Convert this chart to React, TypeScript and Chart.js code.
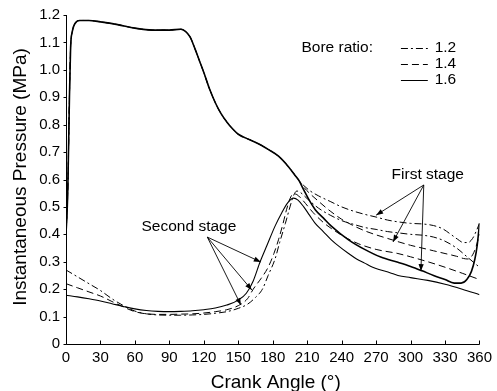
import React, { useEffect, useRef } from "react";
import { Chart, registerables } from "chart.js";

Chart.register(...registerables);

const FONT = '"Liberation Sans", Arial, Helvetica, sans-serif';

// Axis ticks
const xTicks = [0, 30, 60, 90, 120, 150, 180, 210, 240, 270, 300, 330, 360];
const yTicks = [0, 0.1, 0.2, 0.3, 0.4, 0.5, 0.6, 0.7, 0.8, 0.9, 1.0, 1.1, 1.2];
const yTickLabels = ["0", "0.1", "0.2", "0.3", "0.4", "0.5", "0.6", "0.7", "0.8", "0.9", "1.0", "1.1", "1.2"];

// First stage: common part (all bore ratios overlap)
const commonAngles = [0, 1.5, 3, 4, 5.5, 8, 12, 20, 30, 45, 60, 75, 90, 100, 104, 108, 112, 116, 120, 125, 130, 135, 140, 145, 150, 160, 170, 176, 185, 194, 200, 203];
const commonValues = [0.4, 0.55, 0.9, 1.08, 1.14, 1.17, 1.18, 1.18, 1.175, 1.165, 1.152, 1.145, 1.145, 1.148, 1.14, 1.12, 1.08, 1.035, 0.99, 0.93, 0.88, 0.84, 0.81, 0.785, 0.765, 0.745, 0.725, 0.71, 0.685, 0.645, 0.612, 0.595];

// First stage branches
const fs12Angles = [207, 212, 220, 230, 240, 250, 260, 270, 280, 290, 300, 310, 320, 328, 335, 341, 346, 350, 354, 357, 360];
const fs12Values = [0.578, 0.56, 0.54, 0.52, 0.5, 0.485, 0.473, 0.463, 0.452, 0.445, 0.44, 0.438, 0.432, 0.42, 0.4, 0.382, 0.37, 0.37, 0.385, 0.41, 0.44];
const fs14Angles = [207, 212, 220, 230, 240, 250, 260, 270, 280, 290, 300, 310, 320, 330, 340, 346, 350, 354, 357, 360];
const fs14Values = [0.572, 0.55, 0.52, 0.485, 0.455, 0.432, 0.413, 0.398, 0.385, 0.372, 0.36, 0.35, 0.34, 0.33, 0.32, 0.312, 0.31, 0.325, 0.355, 0.4];
const fs16Angles = [207, 211, 217, 224, 231, 246, 260, 274, 289, 300, 310, 320, 330, 338, 344, 349, 353, 356, 358, 360];
const fs16Values = [0.562, 0.53, 0.49, 0.46, 0.43, 0.38, 0.345, 0.317, 0.298, 0.283, 0.267, 0.25, 0.235, 0.222, 0.222, 0.235, 0.265, 0.31, 0.36, 0.44];

// Second stage
const ss12Angles = [0, 10, 20, 30, 40, 50, 60, 70, 80, 90, 100, 110, 120, 130, 140, 150, 158, 165, 171, 176, 182, 186, 191, 195, 198, 201, 204, 210, 220, 230, 240, 250, 260, 270, 280, 290, 300, 310, 320, 330, 340, 350, 360];
const ss12Values = [0.27, 0.245, 0.22, 0.195, 0.165, 0.14, 0.12, 0.11, 0.106, 0.105, 0.105, 0.106, 0.108, 0.112, 0.118, 0.13, 0.145, 0.17, 0.2, 0.25, 0.31, 0.37, 0.44, 0.5, 0.54, 0.558, 0.553, 0.53, 0.495, 0.47, 0.45, 0.437, 0.425, 0.418, 0.41, 0.405, 0.4, 0.397, 0.39, 0.375, 0.35, 0.315, 0.28];
const ss14Angles = [0, 10, 20, 30, 40, 50, 60, 70, 80, 90, 100, 110, 120, 130, 140, 150, 158, 163, 170, 176, 181, 185, 189, 192, 195, 198, 201, 206, 215, 225, 235, 245, 255, 270, 289, 300, 315, 330, 345, 360];
const ss14Values = [0.22, 0.205, 0.19, 0.175, 0.155, 0.135, 0.118, 0.11, 0.108, 0.108, 0.109, 0.11, 0.113, 0.118, 0.125, 0.14, 0.165, 0.2, 0.24, 0.28, 0.33, 0.38, 0.44, 0.49, 0.53, 0.548, 0.545, 0.525, 0.48, 0.44, 0.41, 0.385, 0.365, 0.345, 0.33, 0.318, 0.3, 0.28, 0.258, 0.235];
const ss16Angles = [0, 10, 20, 30, 40, 50, 60, 70, 80, 90, 100, 110, 120, 130, 140, 150, 157, 163, 169, 175, 182, 188, 193, 198, 202, 207, 212, 217, 224, 231, 238, 246, 253, 260, 267, 274, 282, 289, 300, 315, 330, 345, 360];
const ss16Values = [0.178, 0.172, 0.165, 0.157, 0.147, 0.137, 0.128, 0.122, 0.119, 0.118, 0.119, 0.121, 0.125, 0.131, 0.142, 0.16, 0.185, 0.23, 0.3, 0.36, 0.43, 0.48, 0.515, 0.532, 0.525, 0.5, 0.47, 0.44, 0.41, 0.38, 0.355, 0.33, 0.31, 0.295, 0.28, 0.27, 0.26, 0.25, 0.242, 0.232, 0.218, 0.2, 0.18];

// Legend
const boreRatios = ["1.2", "1.4", "1.6"];
const dashDot = [7, 3, 2, 3];
const dashed = [7, 4];
const solid: number[] = [];
const dashes = [dashDot, dashed, solid];

// Annotations (data coordinates)
const secondStageLabel = { text: "Second stage", x: 107, y: 0.427 };
const secondStageApex = { x: 123, y: 0.39 };
const secondStageTargets = [
  { x: 169.6, y: 0.299 },
  { x: 161.8, y: 0.197 },
  { x: 152.3, y: 0.142 },
];
const firstStageLabel = { text: "First stage", x: 315, y: 0.616 };
const firstStageApex = { x: 311.5, y: 0.58 };
const firstStageTargets = [
  { x: 270, y: 0.47 },
  { x: 284.7, y: 0.372 },
  { x: 309, y: 0.266 },
];

const toPoints = (xs: number[], ys: number[]) => xs.map((x, i) => ({ x, y: ys[i] }));

function drawArrow(ctx: CanvasRenderingContext2D, x1: number, y1: number, x2: number, y2: number) {
  ctx.beginPath();
  ctx.moveTo(x1, y1);
  ctx.lineTo(x2, y2);
  ctx.stroke();
  const ang = Math.atan2(y2 - y1, x2 - x1);
  const len = 7;
  const hw = 2.6;
  const bx = x2 - len * Math.cos(ang);
  const by = y2 - len * Math.sin(ang);
  ctx.beginPath();
  ctx.moveTo(x2, y2);
  ctx.lineTo(bx + hw * Math.sin(ang), by - hw * Math.cos(ang));
  ctx.lineTo(bx - hw * Math.sin(ang), by + hw * Math.cos(ang));
  ctx.closePath();
  ctx.fill();
}

const decorPlugin = {
  id: "decor",
  afterDatasetsDraw(chart: any) {
    const ctx: CanvasRenderingContext2D = chart.ctx;
    const xs = chart.scales.x;
    const ys = chart.scales.y;
    const px = (v: number) => xs.getPixelForValue(v);
    const py = (v: number) => ys.getPixelForValue(v);
    ctx.save();
    ctx.strokeStyle = "#000";
    ctx.fillStyle = "#000";
    ctx.lineWidth = 1;
    ctx.setLineDash([]);

    // Axes
    const left = Math.round(px(0)) + 0.5;
    const bottom = Math.round(py(0)) + 0.5;
    ctx.beginPath();
    ctx.moveTo(left, Math.round(py(1.2)));
    ctx.lineTo(left, bottom);
    ctx.lineTo(Math.round(px(360)) + 0.5, bottom);
    ctx.stroke();
    // x ticks (inward)
    xTicks.forEach((t) => {
      const x = Math.round(px(t)) + 0.5;
      ctx.beginPath();
      ctx.moveTo(x, bottom);
      ctx.lineTo(x, bottom - 4);
      ctx.stroke();
    });
    // y ticks (outward)
    yTicks.forEach((t) => {
      const y = Math.round(py(t)) + 0.5;
      ctx.beginPath();
      ctx.moveTo(left, y);
      ctx.lineTo(left - 3, y);
      ctx.stroke();
    });

    // Axis titles
    ctx.font = `19px ${FONT}`;
    ctx.textAlign = "center";
    ctx.textBaseline = "alphabetic";
    ctx.fillText("Crank Angle (\u00B0)", (px(0) + px(360)) / 2 + 3, 388);
    ctx.save();
    ctx.translate(26, 177);
    ctx.rotate(-Math.PI / 2);
    ctx.fillText("Instantaneous Pressure (MPa)", 0, 0);
    ctx.restore();

    // Legend
    ctx.font = `15.5px ${FONT}`;
    ctx.textBaseline = "middle";
    ctx.textAlign = "left";
    ctx.fillText("Bore ratio:", px(205), py(1.08));
    const rows = [1.08, 1.021, 0.963];
    boreRatios.forEach((r, i) => {
      const y = Math.round(py(rows[i])) + 0.5;
      ctx.setLineDash(dashes[i]);
      ctx.beginPath();
      ctx.moveTo(px(291.6), y);
      ctx.lineTo(px(315), y);
      ctx.stroke();
      ctx.setLineDash([]);
      ctx.fillText(r, px(321), py(rows[i]));
    });

    // Annotations
    ctx.textAlign = "center";
    ctx.fillText(secondStageLabel.text, px(secondStageLabel.x), py(secondStageLabel.y));
    ctx.fillText(firstStageLabel.text, px(firstStageLabel.x), py(firstStageLabel.y));
    ctx.lineWidth = 0.9;
    secondStageTargets.forEach((t) =>
      drawArrow(ctx, px(secondStageApex.x), py(secondStageApex.y), px(t.x), py(t.y))
    );
    firstStageTargets.forEach((t) =>
      drawArrow(ctx, px(firstStageApex.x), py(firstStageApex.y), px(t.x), py(t.y))
    );
    ctx.restore();
  },
};

export default function App() {
  const canvasRef = useRef<HTMLCanvasElement | null>(null);

  useEffect(() => {
    if (!canvasRef.current) return;
    const mk = (label: string, xs: number[], ys: number[], dash: number[], width: number) => ({
      label,
      data: toPoints(xs, ys),
      borderColor: "#000",
      backgroundColor: "#000",
      borderWidth: width,
      borderDash: dash,
      pointRadius: 0,
      fill: false,
      cubicInterpolationMode: "monotone" as const,
    });
    const datasets = [
      mk("1.2 second", ss12Angles, ss12Values, dashDot, 1),
      mk("1.4 second", ss14Angles, ss14Values, dashed, 1),
      mk("1.6 second", ss16Angles, ss16Values, solid, 1.1),
      mk("1.2 first", commonAngles.concat(fs12Angles), commonValues.concat(fs12Values), dashDot, 1),
      mk("1.4 first", commonAngles.concat(fs14Angles), commonValues.concat(fs14Values), dashed, 1),
      mk("1.6 first", commonAngles.concat(fs16Angles), commonValues.concat(fs16Values), solid, 1.6),
    ];
    const chart = new Chart(canvasRef.current, {
      type: "line",
      data: { datasets },
      options: {
        responsive: false,
        animation: false,
        layout: { padding: { left: 0, right: 15, top: 15, bottom: 0 } },
        plugins: { legend: { display: false }, tooltip: { enabled: false } },
        scales: {
          x: {
            type: "linear",
            min: 0,
            max: 360,
            grid: { display: false, drawTicks: false },
            border: { display: false },
            afterBuildTicks: (s: any) => {
              s.ticks = xTicks.map((v) => ({ value: v }));
            },
            ticks: {
              font: { family: FONT, size: 15 },
              color: "#000",
              padding: 5,
              maxRotation: 0,
              autoSkip: false,
              callback: (v: any) => String(v),
            },
            afterFit: (s: any) => {
              s.height = 47;
            },
          },
          y: {
            type: "linear",
            min: 0,
            max: 1.2,
            grid: { display: false, drawTicks: false },
            border: { display: false },
            afterBuildTicks: (s: any) => {
              s.ticks = yTicks.map((v) => ({ value: v }));
            },
            ticks: {
              font: { family: FONT, size: 15 },
              color: "#000",
              padding: 6,
              autoSkip: false,
              callback: (v: any) => {
                const i = yTicks.findIndex((t) => Math.abs(t - v) < 1e-6);
                return i >= 0 ? yTickLabels[i] : "";
              },
            },
            afterFit: (s: any) => {
              s.width = 66;
            },
          },
        },
      },
      plugins: [decorPlugin],
    });
    return () => chart.destroy();
  }, []);

  return (
    <div style={{ position: "absolute", left: 0, top: 0, width: 497, height: 391, background: "#fff" }}>
      <canvas ref={canvasRef} width={497} height={391} style={{ display: "block" }} />
    </div>
  );
}
